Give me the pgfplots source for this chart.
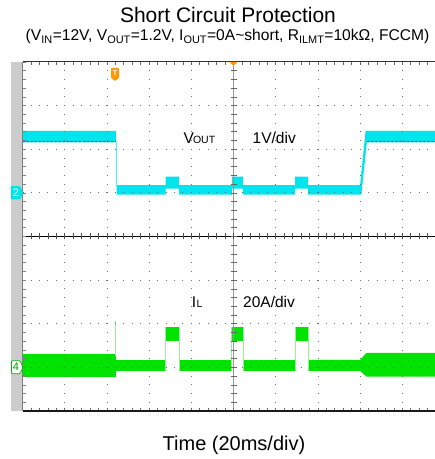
\documentclass[border=0pt]{standalone}
\usepackage{fontspec}
\setmainfont{Liberation Sans}
\usepackage{pgfplots}
\pgfplotsset{compat=1.18}
\definecolor{vcyan}{RGB}{0,228,238}
\definecolor{vteal}{RGB}{0,130,140}
\definecolor{igreen}{RGB}{0,226,0}
\definecolor{ilight}{RGB}{150,240,150}
\definecolor{barg}{RGB}{204,204,204}
\definecolor{trig}{RGB}{255,153,0}
\definecolor{dotg}{RGB}{110,110,110}

\begin{document}
\begin{tikzpicture}[x=1pt,y=1pt]
\useasboundingbox (0,0) rectangle (435,459);
% grey strip at the left of the scope screen
\fill[barg] (11,48) rectangle (22.5,397);

\begin{axis}[
    at={(22.5pt,48pt)}, anchor=south west,
    scale only axis, width=412.5pt, height=349pt,
    xmin=0, xmax=9.775, ymin=-4, ymax=4,
    axis line style={draw=none}, ticks=none,
  ]
  % VOUT, 1V/div, ground at +1 div
  \addplot[fill=vcyan, draw=none] coordinates {
    (0,2.42) (2.21,2.42) (2.21,1.18) (3.39,1.18) (3.39,1.37) (3.71,1.37)
    (3.71,1.18) (4.96,1.18) (4.96,1.37) (5.23,1.37) (5.23,1.18) (6.46,1.18)
    (6.46,1.37) (6.77,1.37) (6.77,1.18) (8.00,1.18) (8.13,2.42) (9.775,2.42)
    (9.775,2.16) (8.16,2.16) (8.03,0.96) (6.77,0.96) (6.77,1.10) (6.46,1.10)
    (6.46,0.96) (5.23,0.96) (5.23,1.10) (4.96,1.10) (4.96,0.96) (3.71,0.96)
    (3.71,1.10) (3.39,1.10) (3.39,0.96) (2.23,0.96) (2.23,2.16) (0,2.16)
  };
  \addplot[vteal, line width=0.7pt, dash pattern=on 3pt off 1pt] coordinates {(0,2.18) (2.20,2.18)};
  \addplot[vteal, line width=0.7pt, dash pattern=on 3pt off 1pt] coordinates {(8.17,2.18) (9.775,2.18)};

  % IL, 20A/div, ground at -3 div
  \addplot[fill=igreen, draw=none] coordinates {(0,-2.70) (2.21,-2.70) (2.21,-3.21) (0,-3.21)};
  \addplot[fill=igreen, draw=none] coordinates {(2.21,-2.83) (3.39,-2.83) (3.39,-3.08) (2.21,-3.08)};
  \addplot[fill=igreen, draw=none] coordinates {(3.71,-2.83) (4.96,-2.83) (4.96,-3.08) (3.71,-3.08)};
  \addplot[fill=igreen, draw=none] coordinates {(5.23,-2.83) (6.46,-2.83) (6.46,-3.08) (5.23,-3.08)};
  \addplot[fill=igreen, draw=none] coordinates {
    (6.77,-2.83) (8.00,-2.83) (8.15,-2.67) (9.775,-2.67)
    (9.775,-3.21) (8.15,-3.21) (8.00,-3.08) (6.77,-3.08)};
  % hiccup pulses
  \addplot[fill=igreen, draw=none] coordinates {(3.39,-2.07) (3.71,-2.07) (3.71,-2.40) (3.39,-2.40)};
  \addplot[fill=igreen, draw=none] coordinates {(4.96,-2.07) (5.23,-2.07) (5.23,-2.40) (4.96,-2.40)};
  \addplot[fill=igreen, draw=none] coordinates {(6.46,-2.07) (6.77,-2.07) (6.77,-2.40) (6.46,-2.40)};
  \addplot[ilight, line width=0.8pt] coordinates {(3.39,-3.08) (3.39,-2.07)};
  \addplot[ilight, line width=0.8pt] coordinates {(3.71,-3.08) (3.71,-2.07)};
  \addplot[ilight, line width=0.8pt] coordinates {(4.96,-3.08) (4.96,-2.07)};
  \addplot[ilight, line width=0.8pt] coordinates {(5.23,-3.08) (5.23,-2.07)};
  \addplot[ilight, line width=0.8pt] coordinates {(6.46,-3.08) (6.46,-2.07)};
  \addplot[ilight, line width=0.8pt] coordinates {(6.77,-3.08) (6.77,-2.07)};
  % spike at the short
  \addplot[ilight, line width=0.8pt] coordinates {(2.21,-2.75) (2.21,-1.93)};
\end{axis}

% dotted graticule
\foreach \k in {-3,-2,-1,1,2,3} {
  \pgfmathsetmacro\yy{222.5+43.625*\k}
  \draw[dotg, line width=0.8pt, dash pattern=on 0.8pt off 7.64pt, dash phase=0.4pt] (22.5,\yy) -- (435,\yy);
}
\foreach \k in {1,2,3,4,6,7,8,9} {
  \pgfmathsetmacro\xx{22.5+42.2*\k}
  \draw[dotg, line width=0.8pt, dash pattern=on 0.8pt off 7.925pt, dash phase=0.4pt] (\xx,48) -- (\xx,397);
}
% centre lines with small ticks
\draw[black, line width=0.8pt] (22.5,222.5) -- (435,222.5);
\draw[gray!80, line width=0.8pt] (233.5,48) -- (233.5,397);
\foreach \i in {0,...,48} {
  \pgfmathsetmacro\xx{22.5+8.44*\i}
  \draw[black!70, line width=0.6pt] (\xx,219.5) -- (\xx,225.5);
  \draw[black!60, line width=0.6pt] (\xx,397) -- (\xx,394);
  \draw[black!60, line width=0.6pt] (\xx,48) -- (\xx,51);
}
\foreach \i in {0,...,40} {
  \pgfmathsetmacro\yy{48+8.725*\i}
  \draw[black!60, line width=0.6pt] (230.5,\yy) -- (236.5,\yy);
  \draw[black!50, line width=0.6pt] (22.5,\yy) -- (25.5,\yy);
}
% screen borders
\draw[black!80, line width=1pt] (22.5,397) -- (435,397);
\draw[black!90, line width=1.8pt] (22.5,48) -- (435,48);
\draw[gray, line width=0.6pt] (22.5,48) -- (22.5,397);

% trigger markers
\fill[trig] (229.5,397) -- (237.5,397) -- (233.5,393) -- cycle;
\fill[trig, rounded corners=0.8pt] (111,391) -- (119,391) -- (119,381) -- (115,378) -- (111,381) -- cycle;
\node[white, font=\fontsize{7}{7}\selectfont\bfseries, inner sep=0] at (115,385.5) {T};

% channel markers
\fill[vcyan] (11,259.5) -- (20,259.5) -- (23,266.2) -- (20,272.9) -- (11,272.9) -- cycle;
\node[white, font=\fontsize{11}{11}\selectfont, inner sep=0] at (16,266.2) {2};
\filldraw[fill=white, draw=igreen!80!black, line width=0.7pt, rounded corners=1pt] (11.5,85.3) -- (20,85.3) -- (23,91.8) -- (20,98.3) -- (11.5,98.3) -- cycle;
\node[igreen!70!black, font=\fontsize{11}{11}\selectfont, inner sep=0] at (16,91.8) {4};

% trace labels
\node[anchor=base west, inner sep=0] at (183.3,315.7) {\fontsize{15.5}{16}\selectfont V\kern-0.8pt\fontsize{10.5}{11}\selectfont OUT};
\node[anchor=base west, inner sep=0, font=\fontsize{15.5}{16}\selectfont] at (252.5,315.7) {1V/div};
\node[anchor=base west, inner sep=0] at (191.7,151.7) {\fontsize{15.5}{16}\selectfont I\kern0.3pt\fontsize{10.5}{11}\selectfont L};
\node[anchor=base west, inner sep=0, font=\fontsize{15.5}{16}\selectfont] at (243,151.5) {20A/div};

% titles
\node[anchor=base, inner sep=0, font=\fontsize{21}{22}\selectfont] at (228,436) {Short Circuit Protection};
\node[anchor=base, inner sep=0, font=\fontsize{15.6}{16}\selectfont] at (227.5,418)
  {(V\textsubscript{IN}=12V, V\textsubscript{OUT}=1.2V, I\textsubscript{OUT}=0A\textasciitilde short, R\textsubscript{ILMT}=10k\symbol{"03A9}, FCCM)};
\node[anchor=base, inner sep=0, font=\fontsize{20}{21}\selectfont] at (234,9) {Time (20ms/div)};
\end{tikzpicture}
\end{document}
